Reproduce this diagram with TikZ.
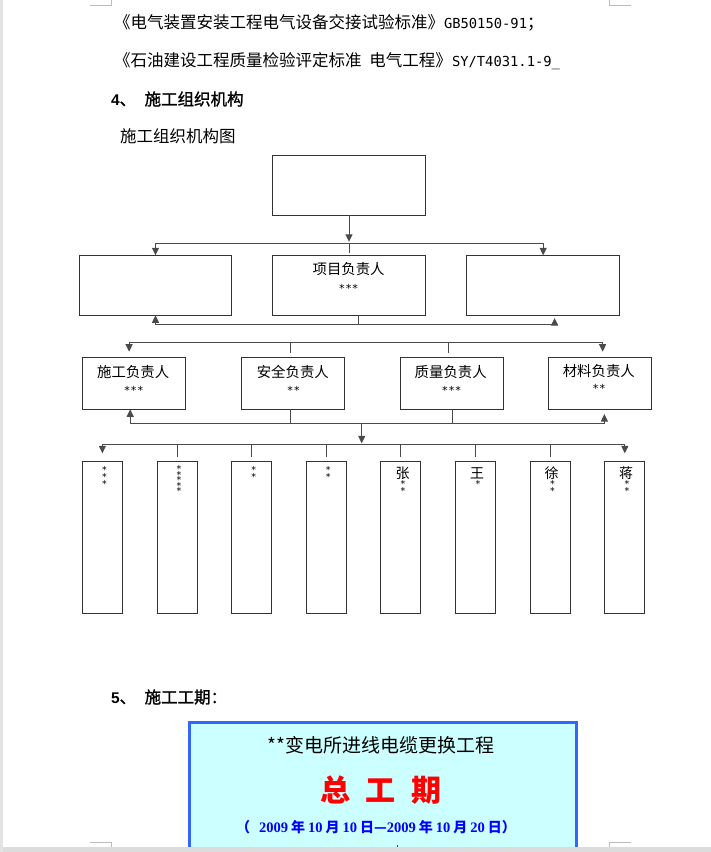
\documentclass[tikz,border=0pt]{standalone}
\usepackage{fontspec}
\usetikzlibrary{arrows.meta}
\newfontfamily\cjk{Noto Sans CJK SC}
\newfontfamily\cjkh[FakeBold=1.2]{Noto Sans CJK SC}
\newfontfamily\monof{DejaVu Sans Mono}
\newfontfamily\serifb{Liberation Serif}
\newfontfamily\sansf{Liberation Sans}
\newcommand\myfs[1]{\fontsize{#1}{#1}\selectfont}
\definecolor{frameblue}{HTML}{3366FF}
\definecolor{framefill}{HTML}{CCFFFF}
\definecolor{datablue}{HTML}{0000FF}
\definecolor{boxline}{HTML}{333333}
\definecolor{connline}{HTML}{4A4A4A}
\definecolor{pagegrey}{HTML}{DCDCDC}
\definecolor{markgrey}{HTML}{BBBBBB}
\tikzset{
  orgbox/.style={draw=boxline, line width=1pt, inner sep=0pt, outer sep=0pt, rectangle},
  conn/.style={draw=connline, line width=1pt},
  arr/.style={conn, -{Triangle[width=7pt,length=7.5pt]}},
  txt/.style={inner sep=0pt, outer sep=0pt},
  starcol/.style={inner sep=0pt, outer sep=0pt, anchor=north, align=center,
    font={\monof\fontsize{9.5}{#1}\selectfont\lineskiplimit=-20pt\lineskip=0pt}},
}
\begin{document}
\begin{tikzpicture}[x=1pt,y=-1pt]
\path[use as bounding box] (0,0) rectangle (711,852);
\fill[white] (0,0) rectangle (711,852);

% ---- text above the chart
\node[txt, anchor=west] (ref1) at (114,23) {\cjk\myfs{16.5}《电气装置安装工程电气设备交接试验标准》{\monof\myfs{13.8}GB50150-91}；};
\node[txt, anchor=west] (ref2) at (114,61) {\cjk\myfs{16.5}《石油建设工程质量检验评定标准\hspace{8pt}电气工程》{\monof\myfs{13.8}SY/T4031.1-9\_}};
\node[txt, anchor=west] (h4) at (111,99) {{\sansf\bfseries\myfs{15.5}4}{\cjkh\myfs{16.5}、}\hspace{8.5pt}{\cjkh\myfs{16.5}施工组织机构}};
\node[txt, anchor=west] (cap) at (120,136.7) {\cjk\myfs{16.5}施工组织机构图};

% ---- level 1 and 2
\node[orgbox, minimum width=153pt, minimum height=60pt] (T) at (349,185.2) {};
\node[orgbox, minimum width=152.5pt, minimum height=60pt] (L2) at (155.5,285.3) {};
\node[orgbox, minimum width=153pt, minimum height=60pt] (C2) at (349,285.3) {};
\node[orgbox, minimum width=153pt, minimum height=60pt] (R2) at (543.2,285.3) {};
\node[txt] (C2n) at (348.6,269.3) {\cjk\myfs{14.4}项目负责人};
\node[txt, anchor=base] (C2s) at (348.6,292.2) {\monof\myfs{11}***};

\coordinate (bus1) at (349,243.3);
\draw[arr, shorten >=1.5pt] (T.south) -- (bus1);
\draw[arr] (bus1) -| (L2.north);
\draw[arr] (bus1) -| (R2.north);
\draw[conn, shorten <=1pt, shorten >=2.5pt] (bus1) -- (C2.north);

\coordinate (bus2) at (358.2,324);
\draw[conn] (C2.south -| bus2) -- (bus2);
\draw[arr] (bus2) -| (L2.south);
\draw[arr, shorten >=2.7pt] (bus2) -| ([xshift=11.4pt]R2.south);

% ---- level 3
\node[orgbox, minimum width=103pt, minimum height=52pt] (B1) at (134,383.3) {};
\node[orgbox, minimum width=103pt, minimum height=52pt] (B2) at (292.8,383.3) {};
\node[orgbox, minimum width=103pt, minimum height=52pt] (B3) at (452,383.3) {};
\node[orgbox, minimum width=103pt, minimum height=52pt] (B4) at (600,383.3) {};
\node[txt] (B1n) at (133.2,372.3) {\cjk\myfs{14.4}施工负责人};
\node[txt] (B2n) at (292.8,372.3) {\cjk\myfs{14.4}安全负责人};
\node[txt] (B3n) at (450.7,372.3) {\cjk\myfs{14.4}质量负责人};
\node[txt] (B4n) at (598.8,371.3) {\cjk\myfs{14.4}材料负责人};
\node[txt, anchor=base] (B1s) at (133.8,394.5) {\monof\myfs{11}***};
\node[txt, anchor=base] (B2s) at (293.6,394.5) {\monof\myfs{11}**};
\node[txt, anchor=base] (B3s) at (451.6,394.5) {\monof\myfs{11}***};
\node[txt, anchor=base] (B4s) at (599,392.9) {\monof\myfs{11}**};

\coordinate (bus3a) at (290.2,342.7);
\coordinate (bus3b) at (448.2,342.7);
\draw[arr, shorten >=5.6pt] (bus3a) -| ([xshift=-4.9pt]B1.north);
\draw[arr, shorten >=5.6pt] (bus3b) -| ([xshift=2.6pt]B4.north);
\draw[conn] (bus3a) -- (bus3b);
\draw[conn, shorten >=4.6pt] (bus3a) -- (bus3a |- B2.north);
\draw[conn, shorten >=4.6pt] (bus3b) -- (bus3b |- B3.north);

\coordinate (bus4) at (361.7,423.3);
\draw[arr] (bus4) -| ([xshift=-3.8pt]B1.south);
\draw[arr, shorten >=4.7pt] (bus4) -| ([xshift=4.4pt]B4.south);
\draw[conn] (B2.south -| bus3a) -- (bus3a |- bus4);
\draw[conn] (B3.south) -- (B3.south |- bus4);

% ---- level 4
\foreach \i in {1,...,8}
  \node[orgbox, minimum width=40pt, minimum height=152pt] (p\i) at ({102.4+74.63*(\i-1)},537.3) {};

\coordinate (bus5) at (361.7,444.3);
\draw[arr, shorten >=1pt] (bus4) -- (bus5);
\draw[arr, shorten >=8pt] (bus5) -| (p1.north);
\draw[arr, shorten >=8pt] (bus5) -| (p8.north);
\foreach \i in {2,...,7}
  \draw[conn, shorten >=4.6pt] (bus5 -| p\i.north) -- (p\i.north);

\node[starcol=7] (s1) at (104.4,466.1) {*\\*\\*};
\node[starcol=5.5] (s2) at (179,465.6) {*\\*\\*\\*\\*};
\node[starcol=7] (s3) at (253.7,466.1) {*\\*};
\node[starcol=7] (s4) at (328.3,466.1) {*\\*};
\node[txt] (n5) at (402.5,473.3) {\cjk\myfs{14}张};
\node[starcol=6.5] (s5) at (403,480.6) {*\\*};
\node[txt] (n6) at (477,473.3) {\cjk\myfs{14}王};
\node[starcol=6.5] (s6) at (478,480.6) {*};
\node[txt] (n7) at (551.5,473.3) {\cjk\myfs{14}徐};
\node[starcol=6.5] (s7) at (552.5,480.6) {*\\*};
\node[txt] (n8) at (626,473.3) {\cjk\myfs{14}蒋};
\node[starcol=6.5] (s8) at (627,480.6) {*\\*};

% ---- section 5
\node[txt, anchor=west] (h5) at (111,697) {{\sansf\bfseries\myfs{15.5}5}{\cjkh\myfs{16.5}、}\hspace{8.5pt}{\cjkh\myfs{16.5}施工工期：}};

\node[draw=frameblue, line width=3pt, fill=framefill, minimum width=387.1pt, minimum height=160pt, anchor=north west, inner sep=0pt] (frame) at (188.2,720.8) {};
\node[txt] (ftitle) at (380.7,745) {\cjk\myfs{19}**变电所进线电缆更换工程};
\node[txt, text=red] (fbig) at (381,790.5) {\cjk\bfseries\myfs{30}总\hspace{16pt}工\hspace{16pt}期};
\node[txt, text=datablue, anchor=west] (fdate) at (236,827) {\cjk\bfseries\myfs{14}（\hspace{9pt}{\serifb\bfseries\myfs{14.5}2009}\hspace{3pt}年\hspace{3pt}{\serifb\bfseries\myfs{14.5}10}\hspace{3pt}月\hspace{3pt}{\serifb\bfseries\myfs{14.5}10}\hspace{3pt}日—{\serifb\bfseries\myfs{14.5}2009}\hspace{3pt}年\hspace{3pt}{\serifb\bfseries\myfs{14.5}10}\hspace{3pt}月\hspace{3pt}{\serifb\bfseries\myfs{14.5}20}\hspace{3pt}日）};
\fill[red] (396.5,844.5) rectangle (398,847);

% ---- page furniture
\fill[pagegrey] (0,847) rectangle (711,852);
\fill[gray!22] (0,0) rectangle (2.5,852);
\draw[markgrey, line width=1pt] (90,5.3) -- (111.7,5.3) -- (111.7,0);
\draw[markgrey, line width=1pt] (630.7,5.3) -- (609.3,5.3) -- (609.3,0);
\draw[markgrey, line width=1pt] (90,842.3) -- (111.7,842.3) -- (111.7,847);
\draw[markgrey, line width=1pt] (630.7,842.3) -- (609.3,842.3) -- (609.3,847);
\end{tikzpicture}
\end{document}
